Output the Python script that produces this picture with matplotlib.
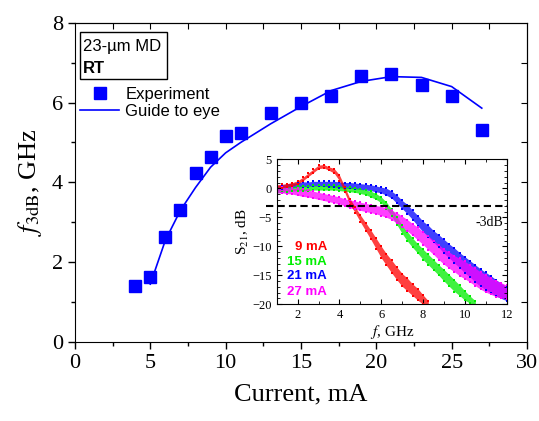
import matplotlib
matplotlib.use("Agg")
from matplotlib import pyplot as plt
from matplotlib.patches import Rectangle
import numpy as np

# main panel: f_3dB vs current
current = [4, 5, 6, 7, 8, 9, 10, 11, 13, 15, 17, 19, 21, 23, 25, 27]
f3db = [1.40, 1.62, 2.62, 3.32, 4.23, 4.63, 5.15, 5.23, 5.75, 6.00, 6.16, 6.67, 6.72, 6.44, 6.16, 5.32]
guide_current = [5, 6, 7, 8, 9, 10, 11, 13, 15, 17, 19, 21, 23, 25, 27]
guide_f3db = [1.45, 2.55, 3.30, 3.87, 4.38, 4.74, 5.00, 5.47, 5.90, 6.30, 6.53, 6.65, 6.63, 6.40, 5.86]

# inset: S21 responses (cloud centre and half-width)
freq = [1.0, 1.25, 1.5, 1.75, 2.0, 2.25, 2.5, 2.75, 3.0, 3.25, 3.5, 3.75, 4.0, 4.25, 4.5,
        4.75, 5.0, 5.25, 5.5, 5.75, 6.0, 6.25, 6.5, 6.75, 7.0, 7.25, 7.5, 7.75, 8.0, 8.25,
        8.5, 8.75, 9.0, 9.25, 9.5, 9.75, 10.0, 10.25, 10.5, 10.75, 11.0, 11.25, 11.5, 11.75, 12.0]

s21_9 = [0.3, 0.4, 0.5, 0.7, 1.0, 1.6, 2.3, 3.0, 3.7, 3.8, 3.4, 3.0, 1.8, -0.2, -2.3,
         -3.7, -5.2, -6.6, -8.0, -9.5, -11.0, -12.3, -13.5, -14.7, -15.8, -16.6, -17.5, -18.3, -19.2, -19.8]
sp_9 = [0.3, 0.3, 0.3, 0.3, 0.3, 0.3, 0.3, 0.3, 0.3, 0.3, 0.3, 0.4, 0.5, 0.5, 0.5,
        0.5, 0.6, 0.7, 0.8, 0.9, 1.0, 1.0, 1.1, 1.1, 1.1, 1.1, 1.0, 1.0, 0.8, 0.4]

s21_15 = [-0.4, -0.3, -0.2, -0.1, 0.0, 0.0, 0.0, 0.1, 0.1, 0.1, 0.1, 0.1, 0.0, -0.1, -0.2,
          -0.3, -0.5, -0.7, -1.0, -1.4, -2.0, -3.0, -4.2, -5.6, -7.1, -8.3, -9.4, -10.4, -11.4, -12.3,
          -13.2, -14.1, -15.0, -15.9, -16.8, -17.6, -18.5, -19.2, -19.8]
sp_15 = [0.4, 0.4, 0.4, 0.4, 0.4, 0.4, 0.4, 0.4, 0.4, 0.4, 0.4, 0.4, 0.4, 0.4, 0.4,
         0.4, 0.4, 0.4, 0.5, 0.5, 0.5, 0.6, 0.6, 0.7, 0.7, 0.8, 0.8, 0.8, 0.9, 0.9,
         0.9, 0.9, 1.0, 1.0, 1.0, 0.9, 0.8, 0.6, 0.4]

s21_21 = [0.0, 0.2, 0.4, 0.5, 0.6, 0.7, 0.7, 0.8, 0.8, 0.8, 0.7, 0.7, 0.6, 0.5, 0.5,
          0.4, 0.3, 0.2, 0.1, -0.1, -0.3, -0.6, -1.1, -1.9, -2.8, -3.6, -4.6, -5.6, -6.6, -7.4,
          -8.3, -9.1, -10.0, -10.8, -11.6, -12.4, -13.2, -13.9, -14.7, -15.4, -16.0, -16.6, -17.2, -17.7, -18.2]
sp_21 = [0.4, 0.4, 0.4, 0.4, 0.4, 0.4, 0.4, 0.4, 0.4, 0.4, 0.5, 0.5, 0.5, 0.5, 0.5,
         0.5, 0.5, 0.5, 0.5, 0.5, 0.5, 0.6, 0.6, 0.7, 0.7, 0.8, 0.8, 0.9, 0.9, 1.0,
         1.0, 1.1, 1.2, 1.2, 1.3, 1.3, 1.4, 1.4, 1.5, 1.5, 1.5, 1.5, 1.4, 1.3, 1.2]

s21_27 = [-0.3, -0.3, -0.4, -0.5, -0.6, -0.8, -0.9, -1.1, -1.3, -1.5, -1.7, -1.9, -2.1, -2.4, -2.7,
          -2.9, -3.1, -3.3, -3.5, -3.7, -3.9, -4.2, -4.6, -5.1, -5.7, -6.4, -7.1, -7.8, -8.6, -9.4,
          -10.2, -11.0, -11.8, -12.4, -13.0, -13.6, -14.1, -14.7, -15.3, -15.9, -16.4, -16.9, -17.3, -17.6, -17.9]
sp_27 = [0.5, 0.5, 0.5, 0.5, 0.6, 0.6, 0.6, 0.6, 0.6, 0.6, 0.6, 0.6, 0.6, 0.6, 0.7,
         0.7, 0.7, 0.7, 0.7, 0.7, 0.8, 0.8, 0.8, 0.9, 0.9, 1.0, 1.0, 1.1, 1.1, 1.2,
         1.2, 1.3, 1.3, 1.4, 1.4, 1.5, 1.5, 1.5, 1.5, 1.5, 1.5, 1.4, 1.4, 1.3, 1.2]

curves = [("21 mA", s21_21, sp_21, "#0000ff"),
          ("15 mA", s21_15, sp_15, "#00ee00"),
          ("27 mA", s21_27, sp_27, "#ff00ff"),
          ("9 mA", s21_9, sp_9, "#ff0000")]
label_order = ["9 mA", "15 mA", "21 mA", "27 mA"]
label_y = [-10.1, -12.7, -15.2, -17.8]

plt.rcParams["font.family"] = "Liberation Serif"
plt.rcParams["mathtext.fontset"] = "stix"

fig = plt.figure(figsize=(5.39, 4.21), dpi=100)
ax = fig.add_axes([0.1391, 0.1876, 0.8386, 0.7584])

ax.plot(current, f3db, "s", color="#0000ff", markersize=8, label="Experiment")
ax.plot(guide_current, guide_f3db, "-", color="#0000ff", lw=1.2, label="Guide to eye")

ax.set_xlim(0, 30)
ax.set_ylim(0, 8)
ax.set_xticks([0, 5, 10, 15, 20, 25, 30])
ax.set_xticks([2.5, 7.5, 12.5, 17.5, 22.5, 27.5], minor=True)
ax.set_yticks([0, 2, 4, 6, 8])
ax.set_yticks([1, 3, 5, 7], minor=True)
ax.tick_params(which="both", direction="out", labelsize=16, width=1)
ax.tick_params(which="major", length=5)
ax.tick_params(which="minor", length=3)
ax.set_xlabel("Current, mA", fontsize=19, labelpad=8)
ax.set_ylabel(r"$f_{\mathrm{3dB}}$, GHz", fontsize=19, labelpad=6)

top = ax.secondary_xaxis("top")
top.set_xticks([2.5, 5, 7.5, 10, 12.5, 15, 17.5, 20, 22.5, 25, 27.5])
top.tick_params(direction="in", length=4, labeltop=False)
right = ax.secondary_yaxis("right")
right.set_yticks([1, 2, 3, 4, 5, 6, 7])
right.tick_params(direction="in", length=4, labelright=False)

# sample label box
ax.add_patch(Rectangle((0.011, 0.823), 0.192, 0.149, transform=ax.transAxes,
                       fill=False, edgecolor="black", lw=1))
ax.text(0.018, 0.925, "23-µm MD", transform=ax.transAxes, fontsize=12,
        family="Liberation Sans", va="center", ha="left")
ax.text(0.018, 0.857, "RT", transform=ax.transAxes, fontsize=12,
        family="Liberation Sans", fontweight="bold", va="center", ha="left")

ax.legend(loc="upper left", bbox_to_anchor=(0.012, 0.80), frameon=False,
          prop={"family": "Liberation Sans", "size": 12}, handlelength=2.3,
          handletextpad=0.4, labelspacing=0.15, borderpad=0, borderaxespad=0)

# inset
ins = fig.add_axes([0.5134, 0.2772, 0.4267, 0.3444])
ins.set_facecolor("white")
for name, mid, sp, col in curves:
    n = len(mid)
    fx = np.array(freq[:n])
    m = np.array(mid)
    s = np.array(sp)
    ins.fill_between(fx, m - s, m + s, color=col, alpha=0.75, lw=0)
    for yy in (m + s, m - s):
        ins.plot(fx, yy, "s", color=col, markersize=2.0, markeredgewidth=0)

ins.plot([0.5, 12], [-3, -3], "--", color="black", lw=1.5, dashes=(3.5, 2), clip_on=False)
ins.text(10.5, -5.9, "-3dB", fontsize=10, ha="left", va="center")

cols = {c[0]: c[3] for c in curves}
for lab, yy in zip(label_order, label_y):
    ins.text(3.4, yy, lab, color=cols[lab], fontsize=9.5, fontweight="bold",
             family="Liberation Sans", ha="right", va="center")

ins.set_xlim(1, 12)
ins.set_ylim(-20, 5)
ins.set_xticks([2, 4, 6, 8, 10, 12])
ins.set_xticks([1, 3, 5, 7, 9, 11], minor=True)
ins.set_yticks([5, 0, -5, -10, -15, -20])
ins.set_yticks(np.arange(-20, 5, 1), minor=True)
ins.tick_params(which="both", direction="in", top=True, right=True, labelsize=9)
ins.tick_params(which="major", length=3.5)
ins.tick_params(which="minor", length=2)
ins.set_xlabel(r"$f$, GHz", fontsize=11, labelpad=1)
ins.set_ylabel(r"S$_{21}$, dB", fontsize=11, labelpad=1)

fig.savefig("out.png", dpi=100)
